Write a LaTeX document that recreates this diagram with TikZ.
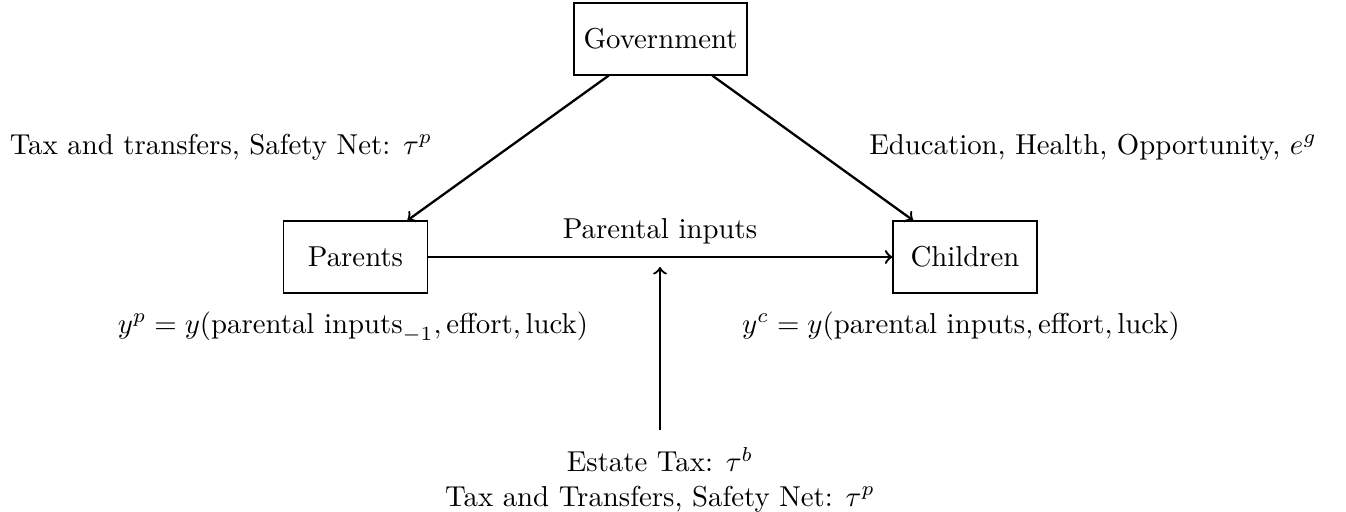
\documentclass[tikz,border=0pt]{standalone}
\usepackage{amsmath}
\usetikzlibrary{calc}
\begin{document}
\begin{tikzpicture}[x=0.3472pt,y=-0.3472pt,
  box/.style={draw, minimum width=50pt, minimum height=25pt, inner sep=3.33pt},
  lbl/.style={anchor=base, inner sep=0pt},
  link/.style={->, thick}]
\useasboundingbox (0,0) rectangle (1346,511);
\node[box] (gov) at (660.5,39) {Government};
\node[box] (par) at (355.5,257) {Parents};
\node[box] (chi) at (965,257) {Children};
\coordinate (gl) at ([xshift=-18pt]gov.south);
\coordinate (gr) at ([xshift=18pt]gov.south);
\coordinate (pin) at ([xshift=18pt]par.north);
\coordinate (cin) at ([xshift=-18pt]chi.north);
\draw[link] (gl) -- (pin);
\draw[link] (gr) -- (cin);
\draw[link] (par) -- (chi);
\coordinate (mid) at (660,267);
\node[align=center, anchor=north] (est) at (660,437) {Estate Tax: $\tau^b$\\Tax and Transfers, Safety Net: $\tau^p$};
\draw[link, shorten <=2.3pt] (est) -- (mid);
\node[lbl] (ltax) at (221,154) {Tax and transfers, Safety Net: $\tau^p$};
\node[lbl] (ledu) at (1093,154) {Education, Health, Opportunity, $e^g$};
\node[lbl] (lpi) at (660,238) {Parental inputs};
\node[lbl] (lyp) at (353,333) {$y^p = y(\text{parental inputs}_{-1}, \text{effort}, \text{luck})$};
\node[lbl] (lyc) at (961,333) {$y^c = y(\text{parental inputs}, \text{effort}, \text{luck})$};
\end{tikzpicture}
\end{document}
